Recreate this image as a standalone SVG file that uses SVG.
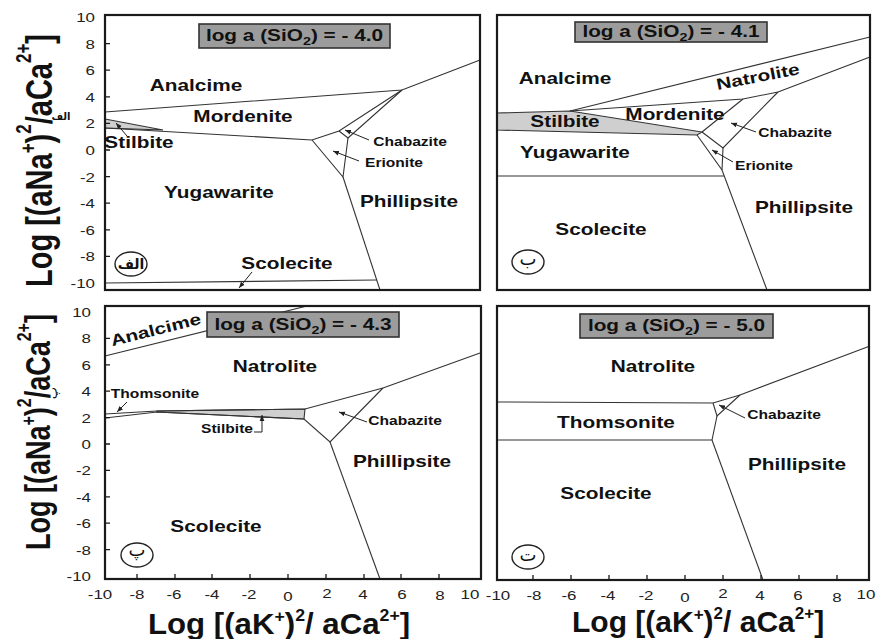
<svg xmlns="http://www.w3.org/2000/svg" width="878" height="639" viewBox="0 0 878 639">
<style>
.bg{fill:#ffffff}
.frame{fill:none;stroke:#1a1a1a;stroke-width:2.2}
.bd{fill:none;stroke:#333;stroke-width:1.1}
.stil{fill:#cfcfcf;stroke:#333;stroke-width:1.1}
.tbox{fill:#9c9c9c;stroke:#333;stroke-width:1.6}
.tk{stroke:#1a1a1a;stroke-width:1.3}
.ar{fill:none;stroke:#222;stroke-width:1;marker-end:url(#ah)}
.lb{font-family:"Liberation Sans",Arial,sans-serif;font-weight:bold;fill:#111;text-anchor:middle;font-size:16px}
.sm{font-size:12px}
.tt{font-family:"Liberation Sans",Arial,sans-serif;font-weight:bold;fill:#111;text-anchor:middle;font-size:16px}
.num{font-family:"Liberation Sans",Arial,sans-serif;fill:#222;font-size:13px}
.ax{font-family:"Liberation Sans",Arial,sans-serif;font-weight:bold;fill:#111}
.ar-t{font-family:"DejaVu Sans",sans-serif;fill:#111;text-anchor:middle}
.circ{fill:none;stroke:#222;stroke-width:1.4}
</style>
<defs>
<marker id="ah" viewBox="0 0 10 10" refX="10" refY="5" markerWidth="6" markerHeight="6" orient="auto" markerUnits="userSpaceOnUse">
<path d="M0,1 L10,5 L0,9 z" fill="#222"/>
</marker>
</defs>
<rect class="bg" x="0" y="0" width="878" height="639"/>

<!-- Panel الف (top-left) -->
<g id="panel-alef">
<polygon class="stil" points="105,119 163,130 105,128"/>
<g id="boundaries-alef">
<path class="bd" d="M105,112 L402,90 L480,60"/>
<path class="bd" d="M105,128 L312,140 L339,131 L402,90"/>
<path class="bd" d="M339,131 L348,138 L402,90"/>
<path class="bd" d="M312,140 L343,177 L348,138"/>
<path class="bd" d="M343,177 L380,290"/>
<path class="bd" d="M105,283 L377,280"/>
</g>
<rect class="frame" x="105" y="15" width="375" height="275"/>
<rect class="tbox" x="199" y="24" width="191" height="24"/>
<text class="tt" transform="translate(294.5,41) scale(1.3,1)">log a (SiO<tspan font-size="11" dy="4">2</tspan><tspan dy="-4">) = - 4.0</tspan></text>
<text class="lb" transform="translate(196,91) scale(1.3,1)">Analcime</text>
<text class="lb" transform="translate(243,122) scale(1.3,1)">Mordenite</text>
<text class="lb" transform="translate(139,148) scale(1.3,1)" font-size="13.5">Stilbite</text>
<text class="lb" transform="translate(219,198) scale(1.3,1)">Yugawarite</text>
<text class="lb" transform="translate(409,207) scale(1.3,1)">Phillipsite</text>
<text class="lb" transform="translate(287,269) scale(1.3,1)">Scolecite</text>
<text class="lb sm" transform="translate(410,146) scale(1.3,1)">Chabazite</text>
<text class="lb sm" transform="translate(394,167) scale(1.3,1)">Erionite</text>
<path class="ar" d="M127,136 L116,123"/>
<path class="ar" d="M369,140 L345,130"/>
<path class="ar" d="M359,161 L333,151"/>
<path class="ar" d="M252,272 L239,288"/>
<ellipse class="circ" cx="131" cy="264" rx="16" ry="12"/>
<text class="ar-t" x="131" y="269" font-size="14" font-weight="bold">الف</text>
</g>

<!-- Panel ب (top-right) -->
<g id="panel-be">
<polygon class="stil" points="497,113 570,111 702,132 697,135 497,130"/>
<g id="boundaries-be">
<path class="bd" d="M570,111 L870,37"/>
<path class="bd" d="M570,111 L743,99 L778,92 L870,57"/>
<path class="bd" d="M702,132 L743,99"/>
<path class="bd" d="M702,132 L723,148 L778,92"/>
<path class="bd" d="M723,148 L722,170"/>
<path class="bd" d="M697,135 L722,170 L767,290"/>
<path class="bd" d="M497,176 L724,176"/>
</g>
<rect class="frame" x="497" y="15" width="373" height="275"/>
<rect class="tbox" x="575" y="22" width="192" height="20"/>
<text class="tt" transform="translate(671,37) scale(1.3,1)">log a (SiO<tspan font-size="11" dy="4">2</tspan><tspan dy="-4">) = - 4.1</tspan></text>
<text class="lb" transform="translate(565,84) scale(1.3,1)">Analcime</text>
<text class="lb" transform="translate(759,82) rotate(-11) scale(1.3,1)">Natrolite</text>
<text class="lb" transform="translate(565,127) scale(1.3,1)" font-size="13">Stilbite</text>
<text class="lb" transform="translate(675,120) scale(1.3,1)" font-size="13.5">Mordenite</text>
<text class="lb sm" transform="translate(795,137) scale(1.3,1)">Chabazite</text>
<text class="lb" transform="translate(575,158) scale(1.3,1)">Yugawarite</text>
<text class="lb sm" transform="translate(764,170) scale(1.3,1)">Erionite</text>
<text class="lb" transform="translate(804,213) scale(1.3,1)">Phillipsite</text>
<text class="lb" transform="translate(601,235) scale(1.3,1)">Scolecite</text>
<path class="ar" d="M756,132 L731,123"/>
<path class="ar" d="M733,162 L712,150"/>
<ellipse class="circ" cx="528" cy="262" rx="16" ry="12"/>
<text class="ar-t" x="528" y="265" font-size="18">ب</text>
</g>

<!-- Panel پ (bottom-left) -->
<g id="panel-pe">
<polygon class="stil" points="157,411 305,409 304,419 157,412"/>
<g id="boundaries-pe">
<path class="bd" d="M105,356 L307,306"/>
<path class="bd" d="M105,414 L157,411 L305,409 L383,388 L480,353"/>
<path class="bd" d="M105,418 L157,412 L304,419 L330,442 L383,388"/>
<path class="bd" d="M330,442 L380,579"/>
</g>
<rect class="frame" x="105" y="306" width="376" height="273"/>
<rect class="tbox" x="207" y="312" width="192" height="25"/>
<text class="tt" transform="translate(303,330) scale(1.3,1)">log a (SiO<tspan font-size="11" dy="4">2</tspan><tspan dy="-4">) = - 4.3</tspan></text>
<text class="lb" transform="translate(157,335) rotate(-14) scale(1.3,1)">Analcime</text>
<text class="lb" transform="translate(275,372) scale(1.3,1)">Natrolite</text>
<text class="lb sm" transform="translate(155,398) scale(1.3,1)">Thomsonite</text>
<text class="lb sm" transform="translate(227,433) scale(1.3,1)">Stilbite</text>
<text class="lb sm" transform="translate(405,425) scale(1.3,1)">Chabazite</text>
<text class="lb" transform="translate(402,467) scale(1.3,1)">Phillipsite</text>
<text class="lb" transform="translate(216,532) scale(1.3,1)">Scolecite</text>
<path class="ar" d="M127,402 L117,412"/>
<path class="ar" d="M254,432 L262,432 L262,415"/>
<path class="ar" d="M367,422 L339,412"/>
<ellipse class="circ" cx="137" cy="555" rx="16" ry="12"/>
<text class="ar-t" x="137" y="556" font-size="18">پ</text>
</g>

<!-- Panel ت (bottom-right) -->
<g id="panel-te">
<g id="boundaries-te">
<path class="bd" d="M497,402 L713,403 L740,395 L870,346"/>
<path class="bd" d="M713,403 L717,416 L740,395"/>
<path class="bd" d="M717,416 L712,440"/>
<path class="bd" d="M497,440 L712,440"/>
<path class="bd" d="M712,440 L763,580"/>
</g>
<rect class="frame" x="497" y="306" width="372" height="274"/>
<rect class="tbox" x="580" y="314" width="193" height="24"/>
<text class="tt" transform="translate(676.5,331) scale(1.3,1)">log a (SiO<tspan font-size="11" dy="4">2</tspan><tspan dy="-4">) = - 5.0</tspan></text>
<text class="lb" transform="translate(653,372) scale(1.3,1)">Natrolite</text>
<text class="lb" transform="translate(616,428) scale(1.3,1)">Thomsonite</text>
<text class="lb sm" transform="translate(784,419) scale(1.3,1)">Chabazite</text>
<text class="lb" transform="translate(797,470) scale(1.3,1)">Phillipsite</text>
<text class="lb" transform="translate(606,499) scale(1.3,1)">Scolecite</text>
<path class="ar" d="M745,418 L719,405"/>
<ellipse class="circ" cx="528" cy="557" rx="16" ry="12"/>
<text class="ar-t" x="528" y="561" font-size="18">ت</text>
</g>

<!-- Axes -->
<g id="axes">
<g id="yticks-top">
<path class="tk" d="M105,43.6h5 M105,70.2h5 M105,96.8h5 M105,123.4h5 M105,150h5 M105,176.6h5 M105,203.2h5 M105,229.8h5 M105,256.4h5"/>
<g class="num" text-anchor="end">
<text transform="translate(95,22) scale(1.3,1)">10</text>
<text transform="translate(95,48.6) scale(1.3,1)">8</text>
<text transform="translate(95,75.2) scale(1.3,1)">6</text>
<text transform="translate(95,101.8) scale(1.3,1)">4</text>
<text transform="translate(95,128.4) scale(1.3,1)">2</text>
<text transform="translate(95,155) scale(1.3,1)">0</text>
<text transform="translate(95,181.6) scale(1.3,1)">-2</text>
<text transform="translate(95,208.2) scale(1.3,1)">-4</text>
<text transform="translate(95,234.8) scale(1.3,1)">-6</text>
<text transform="translate(95,261.4) scale(1.3,1)">-8</text>
<text transform="translate(95,288) scale(1.3,1)">-10</text>
</g>
</g>
<g id="yticks-bottom">
<path class="tk" d="M105,338.4h5 M105,364.8h5 M105,391.2h5 M105,417.6h5 M105,444h5 M105,470.4h5 M105,496.8h5 M105,523.2h5 M105,549.6h5"/>
<g class="num" text-anchor="end">
<text transform="translate(91,317) scale(1.3,1)">10</text>
<text transform="translate(91,343.4) scale(1.3,1)">8</text>
<text transform="translate(91,369.8) scale(1.3,1)">6</text>
<text transform="translate(91,396.2) scale(1.3,1)">4</text>
<text transform="translate(91,422.6) scale(1.3,1)">2</text>
<text transform="translate(91,449) scale(1.3,1)">0</text>
<text transform="translate(91,475.4) scale(1.3,1)">-2</text>
<text transform="translate(91,501.8) scale(1.3,1)">-4</text>
<text transform="translate(91,528.2) scale(1.3,1)">-6</text>
<text transform="translate(91,554.6) scale(1.3,1)">-8</text>
<text transform="translate(91,581) scale(1.3,1)">-10</text>
</g>
</g>
<g id="xticks-left">
<path class="tk" d="M137,579v-5 M175,579v-5 M212,579v-5 M250,579v-5 M288,579v-5 M326,579v-5 M364,579v-5 M401,579v-5 M439,579v-5"/>
<g class="num" text-anchor="middle">
<text transform="translate(100,599) scale(1.3,1)">-10</text>
<text transform="translate(137,599) scale(1.3,1)">-8</text>
<text transform="translate(174,599) scale(1.3,1)">-6</text>
<text transform="translate(212,599) scale(1.3,1)">-4</text>
<text transform="translate(249,599) scale(1.3,1)">-2</text>
<text transform="translate(288,601) scale(1.3,1)">0</text>
<text transform="translate(327,598) scale(1.3,1)">2</text>
<text transform="translate(363,599) scale(1.3,1)">4</text>
<text transform="translate(402,599) scale(1.3,1)">6</text>
<text transform="translate(440,600) scale(1.3,1)">8</text>
<text transform="translate(470,599) scale(1.3,1)">10</text>
</g>
</g>
<g id="xticks-right">
<path class="tk" d="M533,580v-5 M571,580v-5 M609,580v-5 M647,580v-5 M685,580v-5 M723,580v-5 M761,580v-5 M799,580v-5 M837,580v-5"/>
<g class="num" text-anchor="middle">
<text transform="translate(498,600) scale(1.3,1)">-10</text>
<text transform="translate(534,600) scale(1.3,1)">-8</text>
<text transform="translate(569,600) scale(1.3,1)">-6</text>
<text transform="translate(608,600) scale(1.3,1)">-4</text>
<text transform="translate(646,600) scale(1.3,1)">-2</text>
<text transform="translate(685,602) scale(1.3,1)">0</text>
<text transform="translate(723,598) scale(1.3,1)">2</text>
<text transform="translate(760,600) scale(1.3,1)">4</text>
<text transform="translate(798,600) scale(1.3,1)">6</text>
<text transform="translate(837,602) scale(1.3,1)">8</text>
<text transform="translate(866,599) scale(1.3,1)">10</text>
</g>
</g>

<text class="ax" font-size="29" transform="translate(52,287) rotate(-90) scale(1,1.3)">Log [(aNa<tspan font-size="17" dy="-12">+</tspan><tspan dy="12">)</tspan><tspan font-size="17" dy="-16">2</tspan><tspan dy="16">/aCa</tspan><tspan font-size="17" dy="-16">2+</tspan><tspan dy="16">]</tspan></text>
<text class="ar-t" x="61" y="120" font-size="10" font-weight="bold">الف</text>

<text class="ax" font-size="27" transform="translate(50,550) rotate(-90) scale(1,1.3)">Log [(aNa<tspan font-size="16" dy="-11">+</tspan><tspan dy="11">)</tspan><tspan font-size="16" dy="-15">2</tspan><tspan dy="15">/aCa</tspan><tspan font-size="16" dy="-15">2+</tspan><tspan dy="15">]</tspan></text>
<text class="ar-t" font-size="13" transform="translate(57,393) rotate(-90)">پ</text>

<text class="ax" font-size="30" transform="translate(148,634) scale(1.04,1)">Log [(aK<tspan font-size="17" dy="-12">+</tspan><tspan dy="12">)</tspan><tspan font-size="17" dy="-13">2</tspan><tspan dy="13">/ aCa</tspan><tspan font-size="17" dy="-13">2+</tspan><tspan dy="13">]</tspan></text>
<text class="ax" font-size="30" transform="translate(572,632)">Log [(aK<tspan font-size="17" dy="-12">+</tspan><tspan dy="12">)</tspan><tspan font-size="17" dy="-13">2</tspan><tspan dy="13">/ aCa</tspan><tspan font-size="17" dy="-13">2+</tspan><tspan dy="13">]</tspan></text>
</g>
</svg>
